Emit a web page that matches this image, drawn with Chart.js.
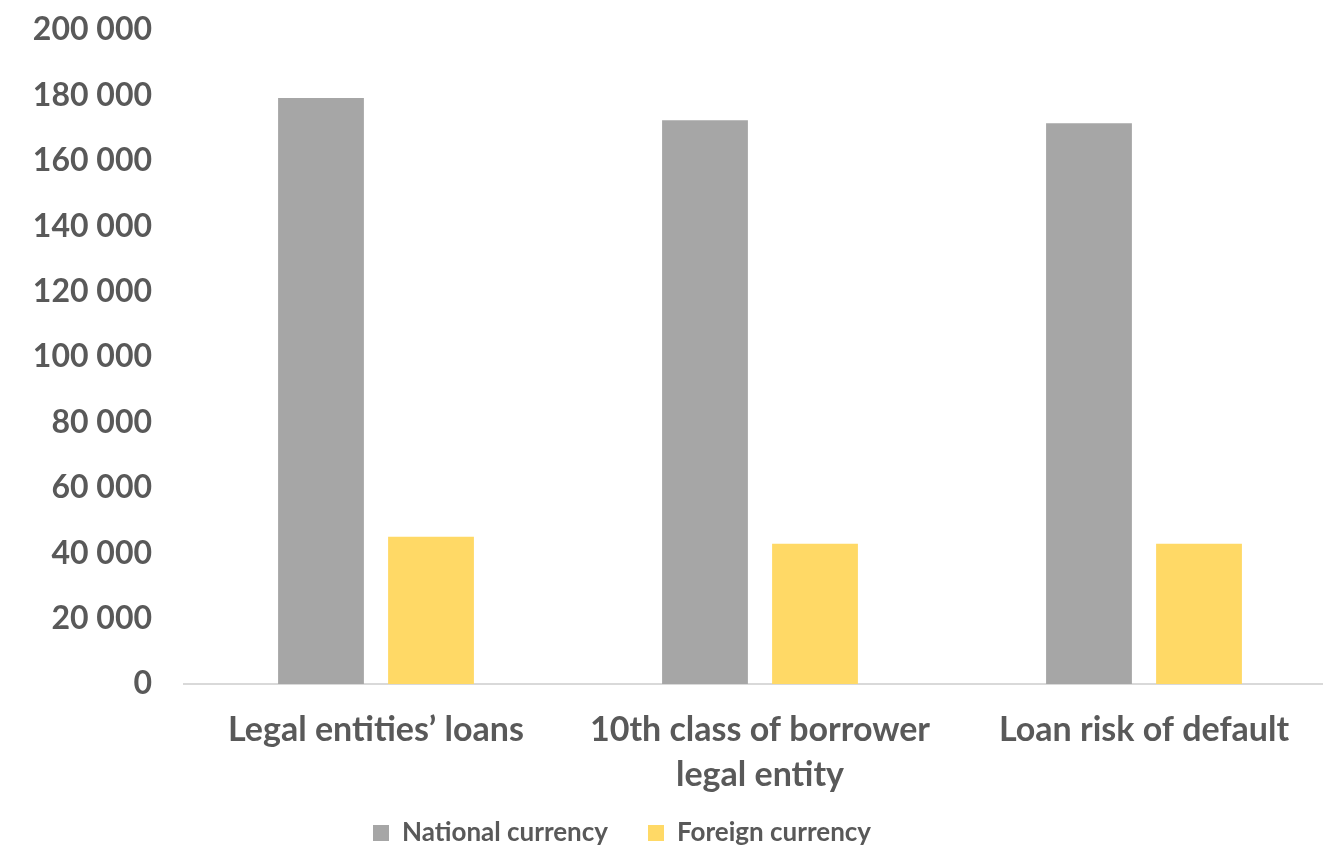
<!DOCTYPE html>
<html>
<head>
<meta charset="utf-8">
<script src="https://cdn.jsdelivr.net/npm/chart.js@4"></script>
<style>
html,body{margin:0;padding:0;background:#fff;overflow:hidden;}
#wrap{width:1382px;height:857px;position:relative;}
</style>
</head>
<body>
<div id="wrap"><canvas id="chart"></canvas></div>
<script>
const categories = [
  "Legal entities\u2019 loans",
  ["10th class of borrower", "legal entity"],
  "Loan risk of default"
];
const nationalCurrency = [179200, 172400, 171500];
const foreignCurrency = [45000, 42900, 42900];
const seriesNames = ["National currency", "Foreign currency"];
const yMax = 200000;
const yStep = 20000;

const textColor = "#595959";
const family = "Lato, 'Open Sans', sans-serif";

function spaced(v){
  return String(v).replace(/\B(?=(\d{3})+(?!\d))/g, " ");
}

// legend row sits under the axis labels, left of centre;
// the x axis box is stretched down so the two-line label is not clipped
const bottomPlace = {
  id: "bottomPlace",
  afterLayout(chart){
    const l = chart.legend;
    const dx = 333 - l.left;
    const dy = 780 - l.top;
    l.left += dx; l.right += dx;
    l.top += dy; l.bottom += dy;
    chart.scales.x.bottom = chart.height;
  }
};

new Chart(document.getElementById("chart"), {
  type: "bar",
  data: {
    labels: categories,
    datasets: [
      {label: seriesNames[0], data: nationalCurrency, backgroundColor: "#a6a6a6"},
      {label: seriesNames[1], data: foreignCurrency, backgroundColor: "#ffd966"}
    ]
  },
  plugins: [bottomPlace],
  options: {
    responsive: true,
    maintainAspectRatio: false,
    animation: false,
    categoryPercentage: 0.573,
    barPercentage: 0.78,
    layout: {padding: {top: 30, right: 46, left: 0, bottom: 0}},
    plugins: {
      tooltip: {enabled: false},
      legend: {
        position: "bottom",
        align: "start",
        labels: {
          color: textColor,
          font: {family, size: 26, weight: "bold"},
          boxWidth: 16,
          boxHeight: 16,
          padding: 40
        }
      }
    },
    scales: {
      x: {
        afterFit: s => { s.height = 97; },
        grid: {display: false},
        border: {display: true, color: "#d9d9d9", width: 2},
        ticks: {
          color: textColor,
          font: {family, size: 34, weight: "bold", lineHeight: 1.32},
          maxRotation: 0,
          padding: 16
        }
      },
      y: {
        min: 0,
        max: yMax,
        afterFit: s => { s.width = 184; s.paddingTop = 0; s.paddingBottom = 0; },
        grid: {display: false, drawTicks: false},
        border: {display: false},
        ticks: {
          stepSize: yStep,
          color: textColor,
          font: {family, size: 32, weight: "bold"},
          padding: 32,
          callback: v => spaced(v)
        }
      }
    }
  }
});
</script>
</body>
</html>
